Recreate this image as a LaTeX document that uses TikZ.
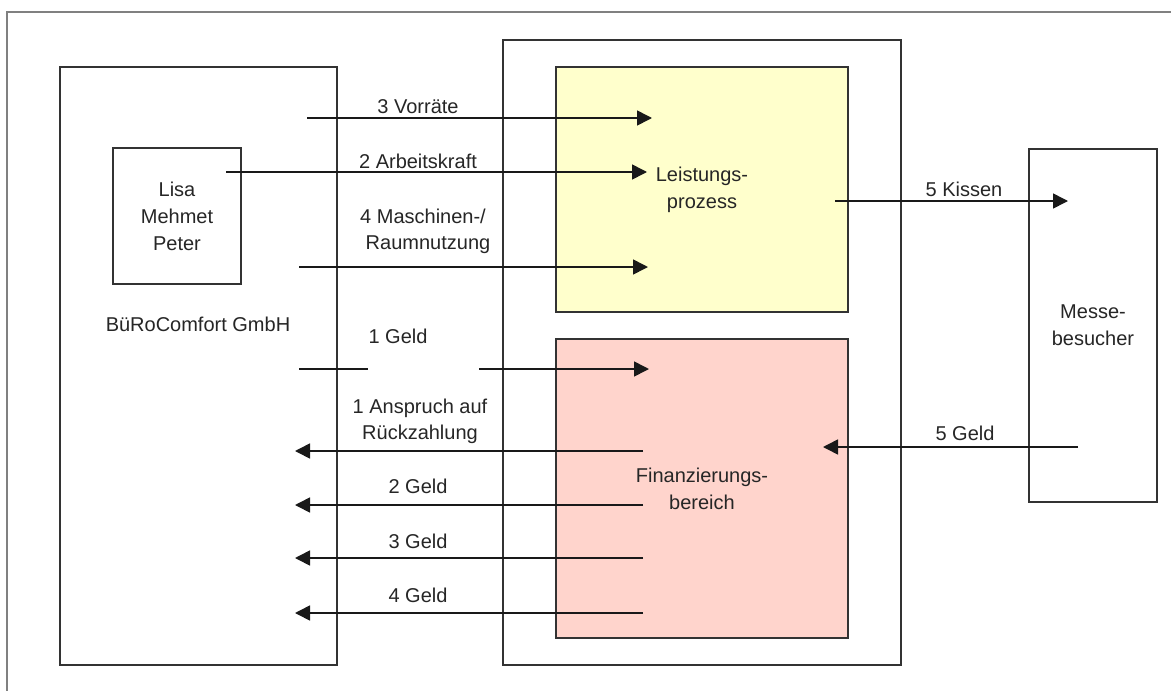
\documentclass[tikz,border=0pt]{standalone}
\usepackage{fontspec}
\setmainfont{Liberation Sans}
\usetikzlibrary{arrows.meta}
\definecolor{boxline}{RGB}{51,51,51}
\definecolor{framegray}{RGB}{128,128,128}
\definecolor{leistfill}{RGB}{255,255,204}
\definecolor{finfill}{RGB}{255,212,204}
\tikzset{
  box/.style={draw=boxline, line width=1.6pt, rectangle, inner sep=0pt, outer sep=0pt, anchor=north west,
    font=\fontsize{20}{27}\selectfont, align=center, text=black!85},
  lbl/.style={inner sep=0pt, font=\fontsize{20}{26}\selectfont, align=center, text=black!85,
    text height=14.5pt, text depth=4pt},
  flow/.style={draw=black!90, line width=1.6pt, -{Triangle[length=15pt,width=15pt]}},
  plain/.style={draw=black!90, line width=1.6pt}
}
\begin{document}
\begin{tikzpicture}[x=1pt,y=-1pt]
\useasboundingbox (0,0) rectangle (1171,691);
\fill[white] (0,0) rectangle (1171,691);
% outer frame (only top and left edges visible)
\draw[framegray, line width=1.6pt] (7,691) -- (7,12) -- (1171,12);

% boxes
\node[box, minimum width=277pt, minimum height=598pt] (buero) at (60,67) {};
\node[box, minimum width=128pt, minimum height=136pt] (lisa) at (113,148) {Lisa\\Mehmet\\Peter};
\node[lbl] (bueroname) at (198,326) {BüRoComfort GmbH};
\node[box, minimum width=398pt, minimum height=625pt] (inner) at (503,40) {};
\node[box, fill=leistfill, minimum width=292pt, minimum height=245pt] (leist) at (556,67) {Leistungs-\\prozess};
\node[box, fill=finfill, minimum width=292pt, minimum height=299pt] (fin) at (556,339) {Finanzierungs-\\bereich};
\node[box, minimum width=128pt, minimum height=353pt] (messe) at (1029,149) {Messe-\\besucher};

% connector end points
\coordinate (v1) at (307,118);  \coordinate (v2) at (652,118);
\coordinate (a1) at (226,172);  \coordinate (a2) at (647,172);
\coordinate (m1) at (299,267);  \coordinate (m2) at (648,267);
\coordinate (g1) at (299,369);  \coordinate (g2) at (368,369);
\coordinate (g3) at (479,369);  \coordinate (g4) at (649,369);
\coordinate (r1) at (643,451);  \coordinate (r2) at (295,451);
\coordinate (z1) at (643,505);  \coordinate (z2) at (295,505);
\coordinate (d1) at (643,558);  \coordinate (d2) at (295,558);
\coordinate (f1) at (643,613);  \coordinate (f2) at (295,613);
\coordinate (k1) at (835,201);  \coordinate (k2) at (1068,201);
\coordinate (e1) at (1078,447); \coordinate (e2) at (823,447);

% connectors
\draw[flow] (v1) -- (v2);
\draw[flow] (a1) -- (a2);
\draw[flow] (m1) -- (m2);
\draw[plain] (g1) -- (g2);
\draw[flow] (g3) -- (g4);
\draw[flow] (r1) -- (r2);
\draw[flow] (z1) -- (z2);
\draw[flow] (d1) -- (d2);
\draw[flow] (f1) -- (f2);
\draw[flow] (k1) -- (k2);
\draw[flow] (e1) -- (e2);

% connector labels
\node[lbl] (lv) at (418,108) {3 Vorräte};
\node[lbl] (la) at (418,163) {2 Arbeitskraft};
\node[lbl, text height=, text depth=] (lm) at (423,231) {4 Maschinen-/\\\hspace*{10pt}Raumnutzung};
\node[lbl] (lg) at (398,338) {1 Geld};
\node[lbl, text height=, text depth=] (lr) at (420,421) {1 Anspruch auf\\Rückzahlung};
\node[lbl] (lz) at (418,488) {2 Geld};
\node[lbl] (ld) at (418,543) {3 Geld};
\node[lbl] (lf) at (418,597) {4 Geld};
\node[lbl] (lk) at (964,191) {5 Kissen};
\node[lbl] (le) at (965,435) {5 Geld};
\end{tikzpicture}
\end{document}
